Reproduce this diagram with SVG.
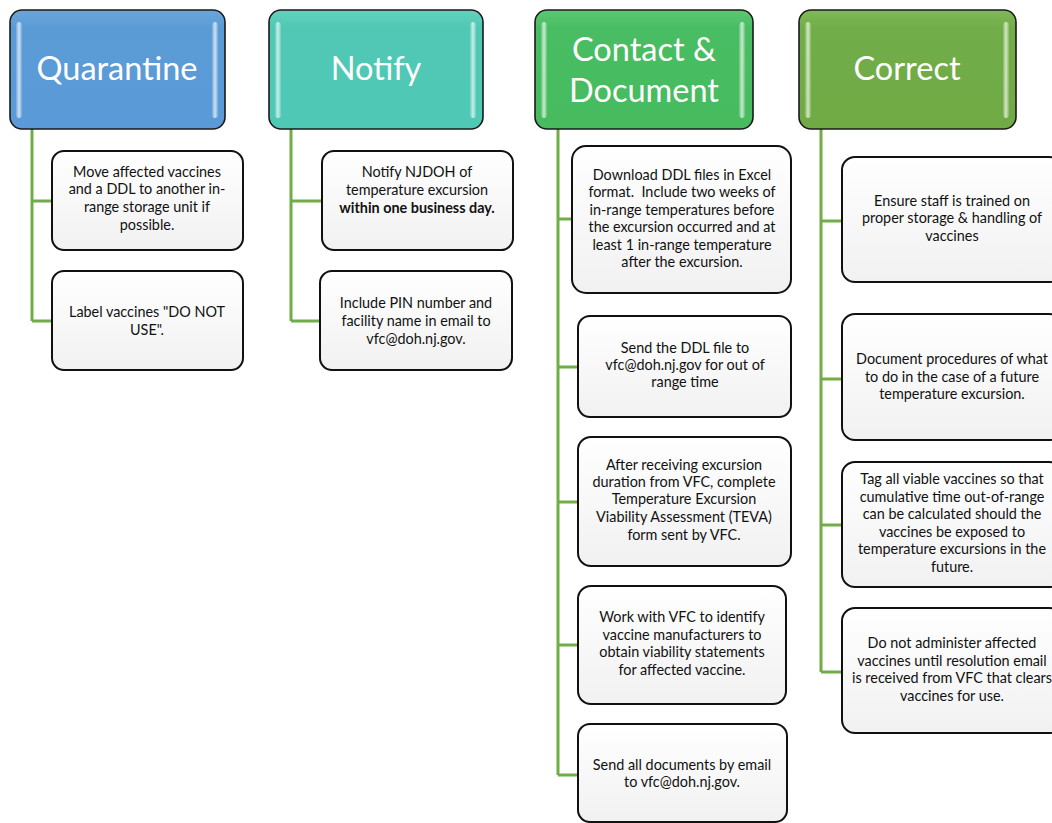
<svg xmlns="http://www.w3.org/2000/svg" width="1052" height="823" viewBox="0 0 1052 823">
<defs>
<linearGradient id="gQ" x1="0" y1="0" x2="0" y2="1"><stop offset="0" stop-color="#6aa6dc"/><stop offset="0.15" stop-color="#5b9bd5"/><stop offset="1" stop-color="#5a9ad8"/></linearGradient>
<linearGradient id="gN" x1="0" y1="0" x2="0" y2="1"><stop offset="0" stop-color="#62d2bd"/><stop offset="0.15" stop-color="#50c8b4"/><stop offset="1" stop-color="#4fc8b6"/></linearGradient>
<linearGradient id="gC" x1="0" y1="0" x2="0" y2="1"><stop offset="0" stop-color="#5bc872"/><stop offset="0.15" stop-color="#49bd63"/><stop offset="1" stop-color="#47bb5e"/></linearGradient>
<linearGradient id="gR" x1="0" y1="0" x2="0" y2="1"><stop offset="0" stop-color="#80b95a"/><stop offset="0.15" stop-color="#71ad48"/><stop offset="1" stop-color="#6faa45"/></linearGradient>
<linearGradient id="gB" x1="0" y1="0" x2="0" y2="1"><stop offset="0" stop-color="#ffffff"/><stop offset="1" stop-color="#f1f1f1"/></linearGradient>
<linearGradient id="hl" x1="0" y1="0" x2="1" y2="0"><stop offset="0" stop-color="#ffffff" stop-opacity="0.15"/><stop offset="0.5" stop-color="#ffffff" stop-opacity="0.7"/><stop offset="1" stop-color="#ffffff" stop-opacity="0.15"/></linearGradient>
</defs>
<style>
.hdr{stroke:#1a1a1a;stroke-width:1.6}
.hl{fill:url(#hl)}
.ht{font-family:Lato,"Liberation Sans",sans-serif;font-size:32.5px;fill:#ffffff;text-anchor:middle}
.box{fill:url(#gB);stroke:#111111;stroke-width:2}
.bt{font-family:Lato,"Liberation Sans",sans-serif;font-size:14.4px;fill:#111111;text-anchor:middle}
.b{font-weight:bold}
.con{stroke:#70ad47;stroke-width:3;fill:none}
</style>

<g id="connectors">
<path class="con" d="M32 129 V321 M32 201 H52 M32 321 H52"/>
<path class="con" d="M291 129 V321 M291 201 H322 M291 321 H320"/>
<path class="con" d="M558 129 V775 M558 219 H572 M558 367 H578 M558 502 H578 M558 645 H578 M558 775 H578"/>
<path class="con" d="M821 129 V672 M821 221 H842 M821 379 H842 M821 525 H842 M821 672 H842"/>
</g>

<g id="quarantine">
<rect class="hdr" x="10" y="10" width="215" height="119" rx="12" fill="url(#gQ)"/>
<rect class="hl" x="16" y="22" width="6" height="96" rx="3"/>
<rect class="hl" x="212" y="22" width="6" height="96" rx="3"/>
<text class="ht" x="117" y="80">Quarantine</text>
</g>
<g id="notify">
<rect class="hdr" x="269" y="10" width="214" height="119" rx="12" fill="url(#gN)"/>
<rect class="hl" x="275" y="22" width="6" height="96" rx="3"/>
<rect class="hl" x="470" y="22" width="6" height="96" rx="3"/>
<text class="ht" x="376" y="80">Notify</text>
</g>
<g id="contact">
<rect class="hdr" x="535" y="10" width="218" height="119" rx="12" fill="url(#gC)"/>
<rect class="hl" x="541" y="22" width="6" height="96" rx="3"/>
<rect class="hl" x="739" y="22" width="6" height="96" rx="3"/>
<text class="ht" x="644" y="61">Contact &amp;</text>
<text class="ht" x="644" y="102">Document</text>
</g>
<g id="correct">
<rect class="hdr" x="799" y="10" width="217" height="119" rx="12" fill="url(#gR)"/>
<rect class="hl" x="805" y="22" width="6" height="96" rx="3"/>
<rect class="hl" x="1003" y="22" width="6" height="96" rx="3"/>
<text class="ht" x="907" y="80">Correct</text>
</g>

<g id="q1">
<rect class="box" x="52" y="151" width="191" height="99" rx="12"/>
<text class="bt" x="147"><tspan x="147" y="177">Move affected vaccines</tspan><tspan x="147" y="194">and a DDL to another in-</tspan><tspan x="147" y="212">range storage unit if</tspan><tspan x="147" y="230">possible.</tspan></text>
</g>
<g id="q2">
<rect class="box" x="52" y="271" width="191" height="99" rx="12"/>
<text class="bt" x="147"><tspan x="147" y="317">Label vaccines "DO NOT</tspan><tspan x="147" y="335">USE".</tspan></text>
</g>
<g id="n1">
<rect class="box" x="322" y="151" width="191" height="99" rx="12"/>
<text class="bt" x="417"><tspan x="417" y="177">Notify NJDOH of</tspan><tspan x="417" y="195">temperature excursion</tspan><tspan class="b" x="417" y="213">within one business day.</tspan></text>
</g>
<g id="n2">
<rect class="box" x="320" y="271" width="192" height="99" rx="12"/>
<text class="bt" x="416"><tspan x="416" y="308">Include PIN number and</tspan><tspan x="416" y="326">facility name in email to</tspan><tspan x="416" y="344">vfc@doh.nj.gov.</tspan></text>
</g>

<g id="c1">
<rect class="box" x="572" y="146" width="219" height="147" rx="14"/>
<text class="bt" x="682"><tspan x="682" y="180">Download DDL files in Excel</tspan><tspan x="682" y="197">format.&#160; Include two weeks of</tspan><tspan x="682" y="215">in-range temperatures before</tspan><tspan x="682" y="232">the excursion occurred and at</tspan><tspan x="682" y="250">least 1 in-range temperature</tspan><tspan x="682" y="267">after the excursion.</tspan></text>
</g>
<g id="c2">
<rect class="box" x="578" y="316" width="213" height="101" rx="12"/>
<text class="bt" x="685"><tspan x="685" y="353">Send the DDL file to</tspan><tspan x="685" y="370">vfc@doh.nj.gov for out of</tspan><tspan x="685" y="387">range time</tspan></text>
</g>
<g id="c3">
<rect class="box" x="578" y="437" width="213" height="129" rx="13"/>
<text class="bt" x="684"><tspan x="684" y="470">After receiving excursion</tspan><tspan x="684" y="487">duration from VFC, complete</tspan><tspan x="684" y="504">Temperature Excursion</tspan><tspan x="684" y="522">Viability Assessment (TEVA)</tspan><tspan x="684" y="540">form sent by VFC.</tspan></text>
</g>
<g id="c4">
<rect class="box" x="578" y="586" width="208" height="118" rx="13"/>
<text class="bt" x="682"><tspan x="682" y="622">Work with VFC to identify</tspan><tspan x="682" y="640">vaccine manufacturers to</tspan><tspan x="682" y="657">obtain viability statements</tspan><tspan x="682" y="675">for affected vaccine.</tspan></text>
</g>
<g id="c5">
<rect class="box" x="578" y="724" width="209" height="98" rx="12"/>
<text class="bt" x="682"><tspan x="682" y="770">Send all documents by email</tspan><tspan x="682" y="787">to vfc@doh.nj.gov.</tspan></text>
</g>

<g id="r1">
<rect class="box" x="842" y="157" width="220" height="125" rx="13"/>
<text class="bt" x="952"><tspan x="952" y="206">Ensure staff is trained on</tspan><tspan x="952" y="223">proper storage &amp; handling of</tspan><tspan x="952" y="241">vaccines</tspan></text>
</g>
<g id="r2">
<rect class="box" x="842" y="314" width="220" height="126" rx="13"/>
<text class="bt" x="952"><tspan x="952" y="364">Document procedures of what</tspan><tspan x="952" y="382">to do in the case of a future</tspan><tspan x="952" y="399">temperature excursion.</tspan></text>
</g>
<g id="r3">
<rect class="box" x="842" y="462" width="220" height="125" rx="13"/>
<text class="bt" x="952"><tspan x="952" y="484">Tag all viable vaccines so that</tspan><tspan x="952" y="502">cumulative time out-of-range</tspan><tspan x="952" y="519">can be calculated should the</tspan><tspan x="952" y="537">vaccines be exposed to</tspan><tspan x="952" y="554">temperature excursions in the</tspan><tspan x="952" y="572">future.</tspan></text>
</g>
<g id="r4">
<rect class="box" x="842" y="608" width="220" height="125" rx="13"/>
<text class="bt" x="952"><tspan x="952" y="648">Do not administer affected</tspan><tspan x="952" y="666">vaccines until resolution email</tspan><tspan x="952" y="683">is received from VFC that clears</tspan><tspan x="952" y="701">vaccines for use.</tspan></text>
</g>
</svg>
